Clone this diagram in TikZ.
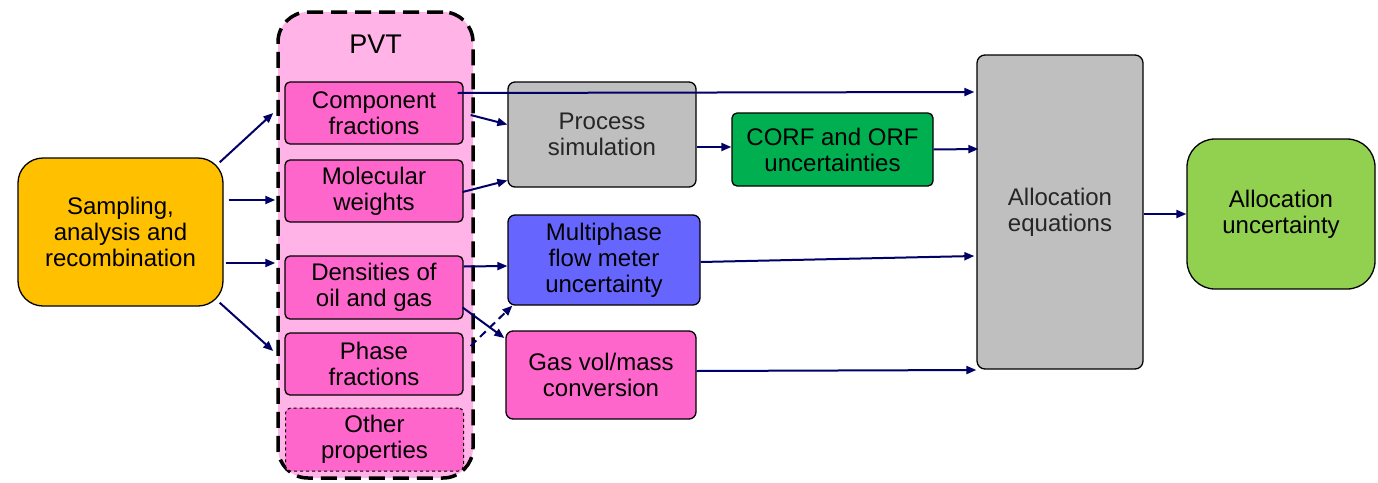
\documentclass[tikz,border=0pt]{standalone}
\usepackage{fontspec}
\setmainfont{Liberation Sans}
\usetikzlibrary{arrows.meta,calc}
\definecolor{navy}{RGB}{0,0,102}
\definecolor{pvtbg}{RGB}{255,179,230}
\definecolor{hotpink}{RGB}{255,102,204}
\definecolor{orangeY}{RGB}{255,192,0}
\definecolor{grayB}{RGB}{191,191,191}
\definecolor{greenD}{RGB}{0,176,80}
\definecolor{blueM}{RGB}{102,102,255}
\definecolor{greenL}{RGB}{146,208,80}
\tikzset{
  box/.style={draw=black, line width=1.3pt, rounded corners=5pt, align=center, inner sep=0pt,
    font=\fontsize{24}{26}\selectfont},
  conn/.style={draw=navy, line width=2pt, -{Triangle[length=10pt,width=8pt]}},
}
\begin{document}
\begin{tikzpicture}[x=1pt,y=-1pt]
\useasboundingbox (0,0) rectangle (1378,482);
% PVT container
\node[draw=black, fill=pvtbg, line width=3.5pt, dash pattern=on 16pt off 8pt, rounded corners=30pt,
  minimum width=195pt, minimum height=466pt, inner sep=0pt] (pvt) at (375.5,245) {};
\node[font=\fontsize{27}{30}\selectfont, inner sep=0pt] (pvtlabel) at (375.5,44) {PVT};
% inner boxes
\node[box, fill=hotpink, minimum width=178pt, minimum height=62pt] (comp) at (374,113) {Component\\fractions};
\node[box, fill=hotpink, minimum width=178pt, minimum height=62pt] (mol) at (374,191) {Molecular\\weights};
\node[box, fill=hotpink, minimum width=178pt, minimum height=63pt] (dens) at (374,287.5) {Densities of\\oil and gas};
\node[box, fill=hotpink, minimum width=178pt, minimum height=62pt] (phase) at (374,364) {Phase\\fractions};
\node[box, fill=hotpink, dashed, line width=1pt, minimum width=178pt, minimum height=63pt] (other) at (374.5,439.5) {Other\\properties};
% left
\node[box, fill=orangeY, rounded corners=25pt, minimum width=205pt, minimum height=148pt] (samp) at (120.5,232) {Sampling,\\analysis and\\recombination};
% middle
\node[box, fill=grayB, rounded corners=7pt, minimum width=188pt, minimum height=105pt, text=black!85] (proc) at (602,134.5) {Process\\simulation};
\node[box, fill=greenD, minimum width=201pt, minimum height=73pt] (corf) at (832.5,149.5) {CORF and ORF\\uncertainties};
\node[box, fill=blueM, rounded corners=7pt, minimum width=192pt, minimum height=90pt] (multi) at (604,260) {Multiphase\\flow meter\\uncertainty};
\node[box, fill=hotpink, rounded corners=7pt, minimum width=190pt, minimum height=88pt] (gas) at (601,375) {Gas vol/mass\\conversion};
% right
\node[box, fill=grayB, rounded corners=8pt, minimum width=166pt, minimum height=314pt, text=black!85] (alloc) at (1060,212) {Allocation\\equations};
\node[box, fill=greenL, rounded corners=28pt, minimum width=188pt, minimum height=150pt] (unc) at (1281,214) {Allocation\\uncertainty};
% connectors
\draw[conn] ($(samp.north east)+(-4,5)$) -- ($(pvt.west)+(-3,-132)$);
\draw[conn] ($(samp.east)+(5,-32)$) -- ($(pvt.west)+(-1,-45)$);
\draw[conn] ($(samp.east)+(2,31)$) -- ($(pvt.west)+(-1,18)$);
\draw[conn] ($(samp.south east)+(-4,-4)$) -- ($(pvt.west)+(-3,106)$);
\draw[conn] ($(comp.east)+(-6,-20)$) -- ($(alloc.west)+(-2,-120)$);
\draw[conn] ($(comp.east)+(7,2)$) -- ($(proc.west)+(0,-10)$);
\draw[conn] ($(mol.east)+(-1,1)$) -- ($(proc.west)+(0,46)$);
\draw[conn] ($(proc.east)+(0,12.5)$) -- ($(corf.west)+(0,-2.5)$);
\draw[conn] (corf.east) -- ($(alloc.west)+(2,-63)$);
\draw[conn] ($(dens.east)+(0,-21)$) -- ($(multi.west)+(0,6)$);
\draw[conn] ($(dens.east)+(-1,20)$) -- ($(gas.west)+(-1,-37)$);
\draw[conn, dash pattern=on 8pt off 5pt] ($(phase.east)+(7,-18)$) -- ($(multi.south west)+(5,0)$);
\draw[conn] ($(multi.east)+(0,2)$) -- ($(alloc.west)+(-2,44)$);
\draw[conn] ($(gas.east)+(0,-4)$) -- ($(alloc.west)+(0,158)$);
\draw[conn] ($(alloc.east)+(0,2)$) -- (unc.west);
\end{tikzpicture}
\end{document}
